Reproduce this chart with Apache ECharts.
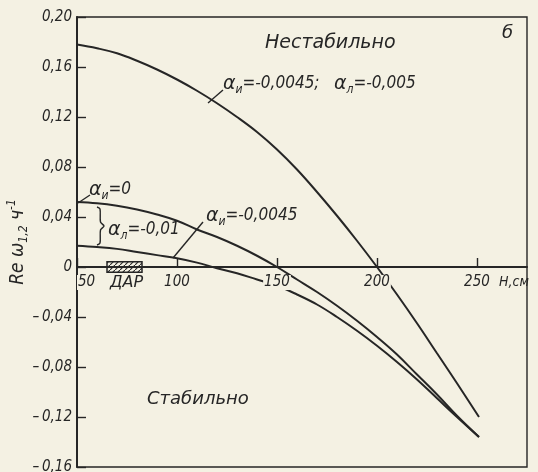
<!DOCTYPE html>
<html><head><meta charset="utf-8">
<script src="https://cdn.jsdelivr.net/npm/echarts@6/dist/echarts.min.js"></script>
<style>html,body{margin:0;padding:0;background:#f4f1e3}#c{width:538px;height:472px}</style>
</head><body><div id="c"></div>
<script>
// H, cm
const H = [50, 60, 70, 80, 90, 100, 110, 120, 130, 140, 150, 160, 170, 180, 190, 200, 210, 220, 230, 240, 251];
// α_и = -0.0045; α_л = -0.005
const unstableCurve = [0.178, 0.175, 0.171, 0.165, 0.158, 0.150, 0.141, 0.131, 0.120, 0.108, 0.094, 0.078, 0.060, 0.041, 0.021, 0.000, -0.022, -0.045, -0.069, -0.093, -0.120];
// α_и = 0; α_л = -0.01
const alphaZeroCurve = [0.052, 0.051, 0.049, 0.046, 0.042, 0.037, 0.030, 0.024, 0.017, 0.009, 0.000, -0.010, -0.020, -0.031, -0.043, -0.056, -0.070, -0.086, -0.102, -0.119, -0.136];
// α_и = -0.0045; α_л = -0.01
const alpha0045Curve = [0.017, 0.016, 0.0145, 0.012, 0.0095, 0.007, 0.0035, -0.001, -0.005, -0.010, -0.015, -0.022, -0.030, -0.040, -0.051, -0.063, -0.076, -0.090, -0.105, -0.120, -0.136];
// ДАР zone on H axis
const darRange = [65, 82.5];
const darHalfHeight = [0.0042, -0.0042];

const xTickValues = [50, 100, 150, 200, 250];
const xTickLabels = ['50', '100', '150', '200', '250'];
const xAxisTitle = 'H,см';
const yTickValues = [-0.16, -0.12, -0.08, -0.04, 0, 0.04, 0.08, 0.12, 0.16, 0.20];
const yTickLabels = ['–\u20090,16', '–\u20090,12', '–\u20090,08', '–\u20090,04', '0', '0,04', '0,08', '0,12', '0,16', '0,20'];

const INK = '#262626';
const PAPER = '#f4f1e3';
const NARROW = '"Liberation Sans Narrow","DejaVu Sans Condensed","Liberation Sans",sans-serif';
const WIDE = '"DejaVu Sans",sans-serif';
const NUM_SIZE = 15;

function lookup(values, labels, v) {
  let best = 0;
  for (let i = 1; i < values.length; i++) if (Math.abs(values[i] - v) < Math.abs(values[best] - v)) best = i;
  return Math.abs(values[best] - v) < 1e-6 ? labels[best] : '';
}
function pairs(ys) { return H.map((h, i) => [h, ys[i]]); }

// hatch pattern for ДАР
const pc = document.createElement('canvas');
pc.width = 5; pc.height = 5;
const pctx = pc.getContext('2d');
pctx.fillStyle = PAPER; pctx.fillRect(0, 0, 5, 5);
pctx.strokeStyle = INK; pctx.lineWidth = 1.1;
pctx.beginPath(); pctx.moveTo(-1, 6); pctx.lineTo(6, -1); pctx.stroke();

const lineStyle = { color: INK, width: 2 };
function curve(name, ys) {
  return { name, type: 'line', data: pairs(ys), showSymbol: false, symbol: 'none', smooth: 0.4, lineStyle, z: 2, silent: true };
}

const chart = echarts.init(document.getElementById('c'), null, { renderer: 'canvas' });

const aRich = {
  a: { fontFamily: WIDE, fontStyle: 'italic', fontSize: 19, lineHeight: 24 },
  s: { fontFamily: NARROW, fontStyle: 'italic', fontSize: 12, lineHeight: 12, verticalAlign: 'bottom' },
  t: { fontFamily: NARROW, fontStyle: 'italic', fontSize: 17, lineHeight: 24 }
};
function txt(x, y, text, extra) {
  return {
    type: 'text', x, y, z: 20, silent: true,
    style: Object.assign({ text, fill: INK, align: 'left', verticalAlign: 'middle', textAlign: 'left', textVerticalAlign: 'middle', rich: aRich,
      font: 'italic ' + NUM_SIZE + 'px ' + NARROW }, extra || {})
  };
}
function seg(x1, y1, x2, y2) {
  return { type: 'line', z: 20, silent: true, shape: { x1, y1, x2, y2 }, style: { stroke: INK, lineWidth: 1.4 } };
}

const GRID = { left: 77, top: 17, width: 450, height: 450 };

chart.setOption({
  backgroundColor: PAPER,
  animation: false,
  grid: Object.assign({ containLabel: false, outerBoundsMode: 'none',
    show: true, borderColor: INK, borderWidth: 1.4, backgroundColor: 'transparent' }, GRID),
  xAxis: {
    type: 'value', min: 50, max: 275, interval: 50, z: 4, position: 'bottom', offset: 0,
    axisLine: { onZero: false, lineStyle: { color: INK, width: 2 } },
    axisTick: { inside: true, length: 9, lineStyle: { color: INK, width: 1.4 } },
    splitLine: { show: false },
    axisLabel: {
      margin: 8, color: INK, fontFamily: NARROW, fontStyle: 'italic', fontSize: NUM_SIZE,
      backgroundColor: PAPER, padding: [0, 1, 0, 1], hideOverlap: false,
      showMinLabel: true, showMaxLabel: false, alignMinLabel: 'left',
      formatter: v => lookup(xTickValues, xTickLabels, v)
    }
  },
  yAxis: {
    type: 'value', min: -0.16, max: 0.20, interval: 0.04,
    axisLine: { onZero: false, lineStyle: { color: INK, width: 2 } },
    axisTick: { inside: true, length: 9, lineStyle: { color: INK, width: 1.4 } },
    splitLine: { show: false },
    axisLabel: { margin: 5, color: INK, fontFamily: NARROW, fontStyle: 'italic', fontSize: NUM_SIZE,
      formatter: v => lookup(yTickValues, yTickLabels, v) },
    name: '{n|Re ω}{s|1,2}{n| ч}{p|-1}',
    nameLocation: 'middle', nameGap: 47, nameRotate: 90, nameMoveOverlap: false,
    nameTextStyle: {
      color: INK, fontFamily: NARROW, fontStyle: 'italic', fontSize: 19,
      rich: {
        n: { color: INK, fontFamily: NARROW, fontStyle: 'italic', fontSize: 19, lineHeight: 24 },
        s: { color: INK, fontFamily: NARROW, fontStyle: 'italic', fontSize: 12, lineHeight: 12, verticalAlign: 'bottom' },
        p: { color: INK, fontFamily: NARROW, fontStyle: 'italic', fontSize: 12, lineHeight: 12, verticalAlign: 'top' }
      }
    }
  },
  series: [
    Object.assign(curve('α_и=-0,0045; α_л=-0,005', unstableCurve), {
      markArea: {
        silent: true, z: 3,
        label: { show: false },
        itemStyle: { color: { image: pc, repeat: 'repeat' }, borderColor: INK, borderWidth: 1.5 },
        data: [[{ coord: [darRange[0], darHalfHeight[0]] }, { coord: [darRange[1], darHalfHeight[1]] }]]
      }
    }),
    curve('α_и=0; α_л=-0,01', alphaZeroCurve),
    curve('α_и=-0,0045; α_л=-0,01', alpha0045Curve)
  ],
  graphic: [
    txt(265, 43, 'Нестабильно', { font: 'italic 19px ' + WIDE }),
    txt(147, 399, 'Стабильно', { font: 'italic 18px ' + WIDE }),
    txt(502, 33, 'б', { font: 'italic 18px ' + WIDE }),
    txt(499, 282, xAxisTitle, { font: 'italic 14px ' + NARROW }),
    txt(223, 84, '{a|α}{s|и}{t|=-0,0045;   }{a|α}{s|л}{t|=-0,005}'),
    seg(208, 103, 223, 90),
    txt(89, 190, '{a|α}{s|и}{t|=0}'),
    seg(78, 203, 90, 195),
    txt(108, 230, '{a|α}{s|л}{t|=-0,01}'),
    {
      type: 'polyline', z: 20, silent: true,
      shape: { points: [[97, 207], [100, 209], [100.5, 222], [104, 226], [100.5, 230], [100, 243], [97, 245]], smooth: 0.3 },
      style: { stroke: INK, lineWidth: 1.4, fill: null }
    },
    txt(206, 216, '{a|α}{s|и}{t|=-0,0045}'),
    seg(203, 222, 173, 258),
    txt(110, 283, 'ДАР', { font: 'italic 16px ' + WIDE })
  ]
});

// put the H axis on the zero line of Re ω (v6 keeps labels at the grid edge with onZero)
const zeroY = chart.convertToPixel({ yAxisIndex: 0 }, 0);
chart.setOption({ xAxis: { offset: zeroY - (GRID.top + GRID.height) } });
</script>
</body></html>
